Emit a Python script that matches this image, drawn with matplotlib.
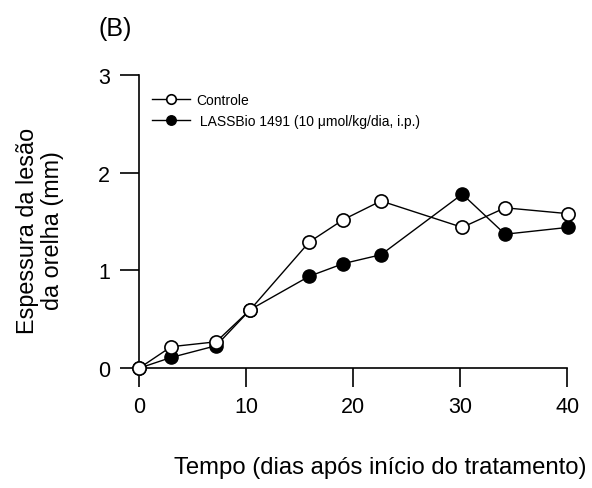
import matplotlib.pyplot as plt

plt.rcParams['font.family'] = ['Liberation Sans', 'DejaVu Sans']

# time points (days) and lesion thickness (mm)
dias = [0, 3, 7.2, 10.4, 15.9, 19.1, 22.6, 30.2, 34.2, 40.1]
controle = [0.0, 0.22, 0.27, 0.60, 1.29, 1.52, 1.71, 1.44, 1.64, 1.58]
lassbio = [0.0, 0.11, 0.23, 0.60, 0.94, 1.07, 1.16, 1.78, 1.37, 1.44]

fig = plt.figure(figsize=(5.92, 4.89), dpi=100)
ax = fig.add_axes([0.235, 0.245, 0.723, 0.6])

ax.plot(dias, controle, '-o', color='black', lw=1, ms=9.5,
        mfc='white', mec='black', mew=1.2, clip_on=False, zorder=3,
        label='Controle')
ax.plot(dias, lassbio, '-o', color='black', lw=1, ms=9.5,
        mfc='black', mec='black', clip_on=False, zorder=2,
        label=' LASSBio 1491 (10 \u03bcmol/kg/dia, i.p.)')

ax.set_xlim(0, 40)
ax.set_ylim(0, 3)
ax.set_xticks([0, 10, 20, 30, 40])
ax.set_yticks([0, 1, 2, 3])
ax.spines['top'].set_visible(False)
ax.spines['right'].set_visible(False)
ax.spines['left'].set_linewidth(1.2)
ax.spines['bottom'].set_linewidth(1.2)
ax.tick_params(direction='out', length=14, width=1.2, labelsize=15.5, pad=6)
ax.tick_params(axis='y', pad=7)

# axis titles placed in figure coordinates
fig.text(380 / 592, 1 - 468 / 489, 'Tempo (dias após início do tratamento)',
         fontsize=17.2, ha='center', va='center')
fig.text(40 / 592, 1 - 231 / 489, 'Espessura da lesão\nda orelha (mm)',
         fontsize=16.8, ha='center', va='center', rotation=90,
         linespacing=1.1)

ax.legend(loc='upper left', bbox_to_anchor=(152 / 592, 1 - 94 / 489),
          bbox_transform=fig.transFigure, frameon=False, borderpad=0,
          borderaxespad=0, fontsize=10, handlelength=2.7, handletextpad=0.5,
          markerscale=0.72, labelspacing=0.5)

fig.text(98 / 592, 1 - 29 / 489, '(B)', fontsize=18, va='center')

fig.savefig('out.png', dpi=100)
